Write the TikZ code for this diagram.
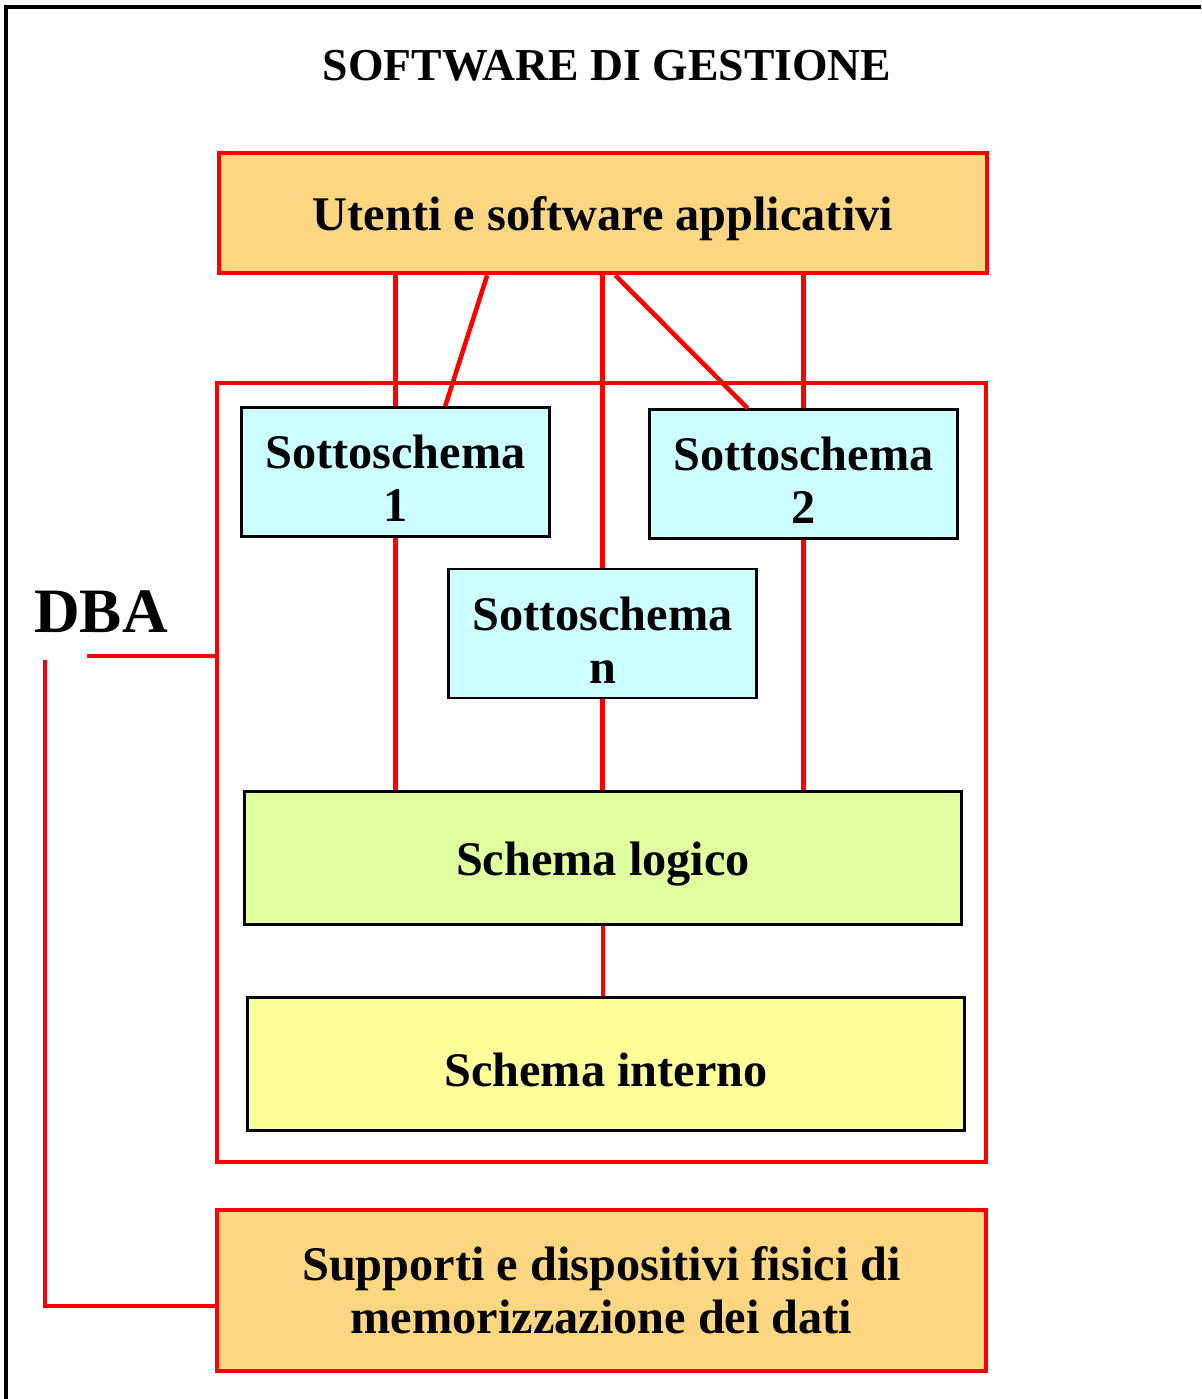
\documentclass[tikz,border=0pt]{standalone}
\usepackage{fontspec}
\setmainfont{Liberation Serif}
\usetikzlibrary{calc}
\definecolor{boxorange}{RGB}{252,214,128}
\definecolor{subcyan}{RGB}{204,255,255}
\definecolor{logicgreen}{RGB}{224,255,158}
\definecolor{intyellow}{RGB}{255,255,153}
\newcommand{\boxfont}{\fontsize{27.5}{30}\selectfont\bfseries}

\begin{document}
\begin{tikzpicture}[x=0.02cm, y=-0.02cm,
        redbox/.style={draw=red, line width=2.7pt, rectangle, fill=boxorange, font=\boxfont, align=center},
        schemabox/.style={draw=black, line width=1.4pt, rectangle, font=\boxfont, align=center, text height=26pt},
        subbox/.style={schemabox, fill=subcyan, minimum width=6.16cm, minimum height=2.58cm, text height=56.5pt},
        link/.style={red, line width=2.6pt}]
            \useasboundingbox (0,0) rectangle (1201,1399);
            \draw[line width=1.9pt] (6,1399) -- (6,7) -- (1201,7);

            \node[font=\fontsize{26}{30}\selectfont\bfseries] (title) at (607,66) {SOFTWARE DI GESTIONE};
            \node[redbox, text height=26pt, minimum width=15.36cm, minimum height=2.4cm] (utenti) at (603,213) {Utenti e software applicativi};
            \node[draw=red, line width=2.5pt, rectangle, minimum width=15.38cm, minimum height=15.58cm] (dbms) at (601.5,772.5) {};
            \node[subbox] (sub1) at (395.5,472) {Sottoschema\\1};
            \node[subbox] (sub2) at (803.5,474) {Sottoschema\\2};
            \node[subbox] (subn) at (602.5,633.5) {Sottoschema\\n};
            \node[schemabox, fill=logicgreen, minimum width=14.34cm, minimum height=2.66cm] (logico) at (603,858) {Schema logico};
            \node[schemabox, fill=intyellow, minimum width=14.34cm, minimum height=2.66cm] (interno) at (606,1064) {Schema interno};
            \node[redbox, minimum width=15.38cm, minimum height=3.22cm] (supporti) at (601.5,1290.5) {Supporti e dispositivi fisici di\\memorizzazione dei dati};
            \node[font=\fontsize{36}{40}\selectfont\bfseries] (dba) at (101,612) {DBA};

            \draw[link] (utenti.south -| sub1.north) -- (sub1.north);
            \draw[link] (sub1.south) -- (sub1.south |- logico.north);
            \draw[link] (utenti.south -| subn.north) -- (subn.north);
            \draw[link] (subn.south) -- (subn.south |- logico.north);
            \draw[link] (utenti.south -| sub2.north) -- (sub2.north);
            \draw[link] (sub2.south) -- (sub2.south |- logico.north);
            \draw[link] ($(utenti.south west)!0.35!(utenti.south east)$) -- ($(sub1.north west)!0.66!(sub1.north east)$);
            \draw[link] ($(utenti.south west)!0.516!(utenti.south east)$) -- ($(sub2.north west)!0.32!(sub2.north east)$);
            \draw[link] (logico.south) -- (logico.south |- interno.north);

            \coordinate (dbaright) at (87,656);
            \coordinate (dbadown) at (45,660);
            \coordinate (dbacorner) at (45,1306);
            \draw[link] (dbaright) -- (dbaright -| dbms.west);
            \draw[link] (dbadown) -- (dbacorner) -- (dbacorner -| supporti.west);
        \end{tikzpicture}
\end{document}
